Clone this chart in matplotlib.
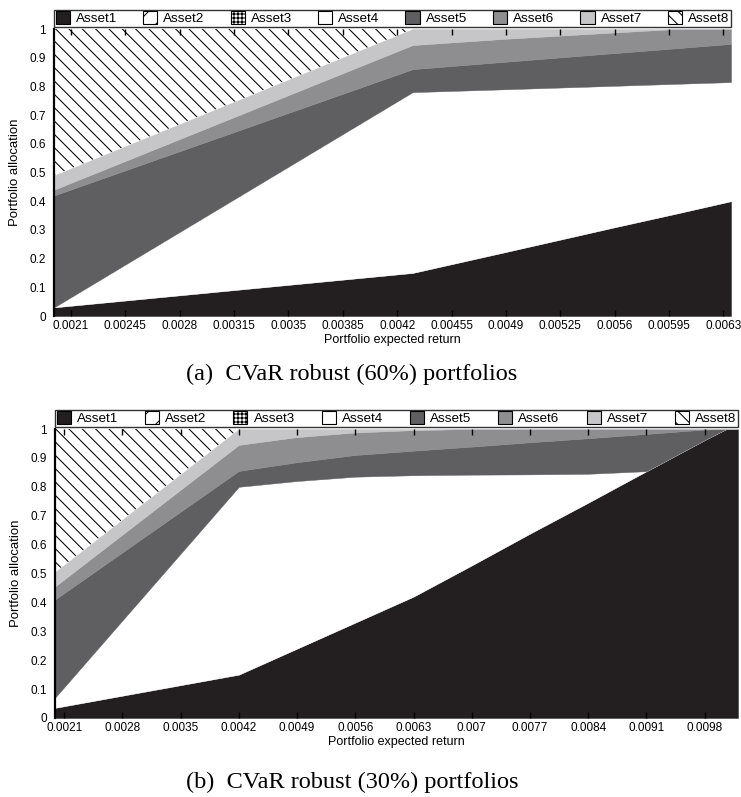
import numpy as np
import matplotlib
matplotlib.use("Agg")
import matplotlib.pyplot as plt
from matplotlib.patches import Patch

DPI = 120
S = 100 / DPI  # sizes below were tuned for 100 dpi
plt.rcParams['font.family'] = ['Liberation Sans', 'DejaVu Sans']
plt.rcParams['hatch.linewidth'] = 0.75 * S

# ===== data =====
assets = ["Asset1", "Asset2", "Asset3", "Asset4", "Asset5", "Asset6", "Asset7", "Asset8"]

# (a) CVaR robust 60%
ret_60 = [0.00199, 0.0043, 0.0049, 0.0056, 0.0060, 0.00635]
a1_60 = [0.03, 0.15, 0.223, 0.309, 0.357, 0.40]
a2_60 = [0, 0, 0, 0, 0, 0]
a3_60 = [0, 0, 0, 0, 0, 0]
a4_60 = [0.0, 0.63, 0.567, 0.493, 0.452, 0.415]
a5_60 = [0.39, 0.08, 0.096, 0.114, 0.124, 0.133]
a6_60 = [0.02, 0.084, 0.080, 0.072, 0.067, 0.052]
a7_60 = [0.05, 0.056, 0.034, 0.012, 0.0, 0.0]
a8_60 = [0.51, 0, 0, 0, 0, 0]

# (b) CVaR robust 30%
ret_30 = [0.00199, 0.0042, 0.0049, 0.0056, 0.0063, 0.0070, 0.0077, 0.0084, 0.0091, 0.0098, 0.01006, 0.0102]
a1_30 = [0.035, 0.15, 0.24, 0.33, 0.42, 0.528, 0.638, 0.745, 0.854, 0.962, 1.0, 1.0]
a2_30 = [0] * 12
a3_30 = [0] * 12
a4_30 = [0.035, 0.65, 0.58, 0.505, 0.42, 0.314, 0.205, 0.10, 0, 0, 0, 0]
a5_30 = [0.34, 0.055, 0.065, 0.075, 0.085, 0.097, 0.111, 0.123, 0.129, 0.036, 0, 0]
a6_30 = [0.045, 0.09, 0.087, 0.078, 0.071, 0.061, 0.046, 0.032, 0.017, 0.002, 0, 0]
a7_30 = [0.05, 0.055, 0.028, 0.012, 0.004, 0, 0, 0, 0, 0, 0, 0]
a8_30 = [0.495, 0, 0, 0, 0, 0, 0, 0, 0, 0, 0, 0]

xticks_60 = ["0.0021", "0.00245", "0.0028", "0.00315", "0.0035", "0.00385", "0.0042",
             "0.00455", "0.0049", "0.00525", "0.0056", "0.00595", "0.0063"]
xticks_30 = ["0.0021", "0.0028", "0.0035", "0.0042", "0.0049", "0.0056", "0.0063",
             "0.007", "0.0077", "0.0084", "0.0091", "0.0098"]
yticks = ["0", "0.1", "0.2", "0.3", "0.4", "0.5", "0.6", "0.7", "0.8", "0.9", "1"]

colors = ['#231f20', 'white', 'white', 'white', '#5f5f61', '#8e8e91', '#c6c6c8', 'white']
hatches = [None, '//', '+++++', None, None, None, None, '\\\\\\']


def draw_panel(ax, x, allocs, tick_labels):
    x = np.array(x)
    base = np.zeros(len(x))
    for i, a in enumerate(allocs):
        top = base + np.array(a, dtype=float)
        if hatches[i]:
            ax.fill_between(x, base, top, facecolor=colors[i], edgecolor='black',
                            hatch=hatches[i], linewidth=0)
        else:
            ax.fill_between(x, base, top, facecolor=colors[i], edgecolor=colors[i],
                            linewidth=0.3 * S)
        base = top

    ax.set_xlim(x[0], x[-1])
    ax.set_ylim(0, 1)
    ax.set_xticks([float(t) for t in tick_labels])
    ax.set_xticklabels(tick_labels)
    ax.set_yticks([float(t) for t in yticks])
    ax.set_yticklabels(yticks)
    ax.tick_params(axis='x', direction='in', top=True, length=4 * S, width=1 * S,
                   pad=3 * S, labelsize=8.5 * S)
    ax.tick_params(axis='y', length=0, pad=6 * S, labelsize=8.5 * S)
    for s in ['top', 'right', 'bottom']:
        ax.spines[s].set_visible(False)
    ax.spines['left'].set_linewidth(1.6 * S)
    ax.set_xlabel("Portfolio expected return", fontsize=9 * S, labelpad=1 * S)
    ax.set_ylabel("Portfolio allocation", fontsize=9.5 * S, labelpad=6 * S)

    handles = [Patch(facecolor=colors[i], edgecolor='black', hatch=hatches[i],
                     linewidth=0.8 * S, label=assets[i]) for i in range(8)]
    leg = ax.legend(handles=handles, ncol=8, loc='lower left',
                    bbox_to_anchor=(0, 1.008, 1, 0.06), mode='expand',
                    borderaxespad=0, fontsize=9.7 * S, handlelength=1.05,
                    handleheight=1.05, handletextpad=0.45, borderpad=0.12,
                    fancybox=False, edgecolor='#333333', framealpha=1)
    leg.get_frame().set_linewidth(1.0 * S)


W, H = 741, 797
fig = plt.figure(figsize=(W / DPI, H / DPI), dpi=DPI)

ax1 = fig.add_axes([54 / W, 1 - 316 / H, (731 - 54) / W, (316 - 29) / H])
draw_panel(ax1, ret_60, [a1_60, a2_60, a3_60, a4_60, a5_60, a6_60, a7_60, a8_60], xticks_60)

ax2 = fig.add_axes([55 / W, 1 - 718 / H, (738 - 55) / W, (718 - 429) / H])
draw_panel(ax2, ret_30, [a1_30, a2_30, a3_30, a4_30, a5_30, a6_30, a7_30, a8_30], xticks_30)

fig.text(352 / W, 1 - 374 / H, "(a)  CVaR robust (60%) portfolios", ha='center', va='center',
         family='Liberation Serif', fontsize=17.5 * S)
fig.text(352 / W, 1 - 782 / H, "(b)  CVaR robust (30%) portfolios", ha='center', va='center',
         family='Liberation Serif', fontsize=17.5 * S)

fig.savefig("out.png", dpi=DPI)
